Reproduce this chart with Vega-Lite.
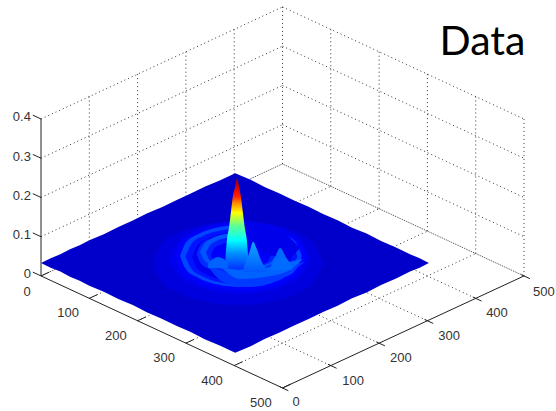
{
"$schema":"https://vega.github.io/schema/vega-lite/v6.json",
"width":556,"height":411,"padding":0,
"autosize":{"type":"fit","contains":"padding"},
"background":"white",
"config":{"view":{"stroke":null}},
"datasets":{
"grid":[
{"h":0,"v":0.1,"h2":500,"v2":0.3855},{"h":0,"v":0.2,"h2":500,"v2":0.4855},{"h":0,"v":0.3,"h2":500,"v2":0.5855},{"h":0,"v":0.4,"h2":500,"v2":0.6855},
{"h":500,"v":0.3855,"h2":1000,"v2":0.1},{"h":500,"v":0.4855,"h2":1000,"v2":0.2},{"h":500,"v":0.5855,"h2":1000,"v2":0.3},{"h":500,"v":0.6855,"h2":1000,"v2":0.4},
{"h":100,"v":0.0571,"h2":100,"v2":0.4571},{"h":200,"v":0.1142,"h2":200,"v2":0.5142},{"h":300,"v":0.1713,"h2":300,"v2":0.5713},{"h":400,"v":0.2284,"h2":400,"v2":0.6284},{"h":500,"v":0.2855,"h2":500,"v2":0.6855},
{"h":600,"v":0.2284,"h2":600,"v2":0.6284},{"h":700,"v":0.1713,"h2":700,"v2":0.5713},{"h":800,"v":0.1142,"h2":800,"v2":0.5142},{"h":900,"v":0.0571,"h2":900,"v2":0.4571},{"h":1000,"v":0,"h2":1000,"v2":0.4},
{"h":100,"v":-0.0571,"h2":600,"v2":0.2284},{"h":200,"v":-0.1142,"h2":700,"v2":0.1713},{"h":300,"v":-0.1713,"h2":800,"v2":0.1142},{"h":400,"v":-0.2284,"h2":900,"v2":0.0571},
{"h":100,"v":0.0571,"h2":600,"v2":-0.2284},{"h":200,"v":0.1142,"h2":700,"v2":-0.1713},{"h":300,"v":0.1713,"h2":800,"v2":-0.1142},{"h":400,"v":0.2284,"h2":900,"v2":-0.0571}
],
"edges":[{"h":0,"v":0,"h2":500,"v2":0.2855},{"h":500,"v":0.2855,"h2":1000,"v2":0}],
"axes":[
{"h":0,"v":0,"h2":0,"v2":0.4},{"h":0,"v":0,"h2":500,"v2":-0.2855},{"h":500,"v":-0.2855,"h2":1000,"v2":0},
{"h":0,"v":0,"h2":17,"v2":0.0097},{"h":100,"v":-0.0571,"h2":117,"v2":-0.0474},{"h":200,"v":-0.1142,"h2":217,"v2":-0.1045},{"h":300,"v":-0.1713,"h2":317,"v2":-0.1616},{"h":400,"v":-0.2284,"h2":417,"v2":-0.2187},{"h":500,"v":-0.2855,"h2":517,"v2":-0.2758},
{"h":494,"v":-0.2821,"h2":512,"v2":-0.2924},{"h":594,"v":-0.225,"h2":612,"v2":-0.2353},{"h":694,"v":-0.1679,"h2":712,"v2":-0.1782},{"h":794,"v":-0.1108,"h2":812,"v2":-0.1211},{"h":894,"v":-0.0537,"h2":912,"v2":-0.064},{"h":994,"v":0.0034,"h2":1012,"v2":-0.0069},
{"h":0,"v":0,"h2":-17,"v2":0.0097},{"h":0,"v":0.1,"h2":-17,"v2":0.1097},{"h":0,"v":0.2,"h2":-17,"v2":0.2097},{"h":0,"v":0.3,"h2":-17,"v2":0.3097},{"h":0,"v":0.4,"h2":-17,"v2":0.4097}
],
"base":[
{"p":"base","z":0.017,"h":0,"top":0.033,"bot":0.033},{"p":"base","z":0.017,"h":20,"top":0.045,"bot":0.021},{"p":"base","z":0.017,"h":40,"top":0.055,"bot":0.011},{"p":"base","z":0.017,"h":60,"top":0.068,"bot":-0.002},{"p":"base","z":0.017,"h":80,"top":0.078,"bot":-0.012},{"p":"base","z":0.017,"h":100,"top":0.091,"bot":-0.025},{"p":"base","z":0.017,"h":130,"top":0.106,"bot":-0.04},{"p":"base","z":0.017,"h":160,"top":0.125,"bot":-0.059},{"p":"base","z":0.017,"h":190,"top":0.141,"bot":-0.074},{"p":"base","z":0.017,"h":220,"top":0.16,"bot":-0.093},{"p":"base","z":0.017,"h":250,"top":0.175,"bot":-0.109},{"p":"base","z":0.017,"h":280,"top":0.193,"bot":-0.127},{"p":"base","z":0.017,"h":310,"top":0.21,"bot":-0.143},{"p":"base","z":0.017,"h":340,"top":0.228,"bot":-0.162},{"p":"base","z":0.017,"h":370,"top":0.243,"bot":-0.177},{"p":"base","z":0.017,"h":402,"top":0.262,"bot":-0.196},{"p":"base","z":0.017,"h":434,"top":0.245,"bot":-0.179},{"p":"base","z":0.017,"h":464,"top":0.226,"bot":-0.16},{"p":"base","z":0.017,"h":494,"top":0.21,"bot":-0.144},{"p":"base","z":0.017,"h":524,"top":0.192,"bot":-0.126},{"p":"base","z":0.017,"h":554,"top":0.176,"bot":-0.11},{"p":"base","z":0.017,"h":584,"top":0.158,"bot":-0.092},{"p":"base","z":0.017,"h":614,"top":0.142,"bot":-0.076},{"p":"base","z":0.017,"h":644,"top":0.123,"bot":-0.057},{"p":"base","z":0.017,"h":674,"top":0.108,"bot":-0.042},{"p":"base","z":0.017,"h":704,"top":0.089,"bot":-0.023},{"p":"base","z":0.017,"h":734,"top":0.073,"bot":-0.007},{"p":"base","z":0.017,"h":764,"top":0.055,"bot":0.011},{"p":"base","z":0.017,"h":784,"top":0.045,"bot":0.021},{"p":"base","z":0.017,"h":803,"top":0.033,"bot":0.033}
],
"surface":[
{"p":"e1","z":0.0225,"h":232,"top":0.033,"bot":0.033},{"p":"e1","z":0.0225,"h":249,"top":0.08,"bot":-0.014},{"p":"e1","z":0.0225,"h":285,"top":0.11,"bot":-0.043},{"p":"e1","z":0.0225,"h":337,"top":0.131,"bot":-0.065},{"p":"e1","z":0.0225,"h":408,"top":0.14,"bot":-0.074},{"p":"e1","z":0.0225,"h":478,"top":0.131,"bot":-0.065},{"p":"e1","z":0.0225,"h":531,"top":0.11,"bot":-0.043},{"p":"e1","z":0.0225,"h":566,"top":0.08,"bot":-0.014},{"p":"e1","z":0.0225,"h":584,"top":0.033,"bot":0.033},
{"p":"e2","z":0.0275,"h":267,"top":0.046,"bot":0.046},{"p":"e2","z":0.0275,"h":282,"top":0.086,"bot":0.006},{"p":"e2","z":0.0275,"h":310.5,"top":0.111,"bot":-0.02},{"p":"e2","z":0.0275,"h":354,"top":0.13,"bot":-0.038},{"p":"e2","z":0.0275,"h":412,"top":0.138,"bot":-0.046},{"p":"e2","z":0.0275,"h":470,"top":0.13,"bot":-0.038},{"p":"e2","z":0.0275,"h":513,"top":0.111,"bot":-0.02},{"p":"e2","z":0.0275,"h":542,"top":0.086,"bot":0.006},{"p":"e2","z":0.0275,"h":557,"top":0.046,"bot":0.046},
{"p":"e2b","z":0.031,"h":279,"top":0.048,"bot":0.048},{"p":"e2b","z":0.031,"h":293,"top":0.085,"bot":0.012},{"p":"e2b","z":0.031,"h":320,"top":0.108,"bot":-0.012},{"p":"e2b","z":0.031,"h":360,"top":0.126,"bot":-0.029},{"p":"e2b","z":0.031,"h":414,"top":0.133,"bot":-0.036},{"p":"e2b","z":0.031,"h":468,"top":0.126,"bot":-0.029},{"p":"e2b","z":0.031,"h":508,"top":0.108,"bot":-0.012},{"p":"e2b","z":0.031,"h":535,"top":0.085,"bot":0.012},{"p":"e2b","z":0.031,"h":549,"top":0.048,"bot":0.048},
{"p":"e3","z":0.038,"h":288,"top":0.051,"bot":0.051},{"p":"e3","z":0.038,"h":300,"top":0.085,"bot":0.017},{"p":"e3","z":0.038,"h":326,"top":0.107,"bot":-0.005},{"p":"e3","z":0.038,"h":363,"top":0.123,"bot":-0.021},{"p":"e3","z":0.038,"h":414,"top":0.13,"bot":-0.028},{"p":"e3","z":0.038,"h":465,"top":0.123,"bot":-0.021},{"p":"e3","z":0.038,"h":502,"top":0.107,"bot":-0.005},{"p":"e3","z":0.038,"h":528,"top":0.085,"bot":0.017},{"p":"e3","z":0.038,"h":540,"top":0.051,"bot":0.051},
{"p":"e3b","z":0.032,"h":299,"top":0.05,"bot":0.05},{"p":"e3b","z":0.032,"h":311,"top":0.081,"bot":0.019},{"p":"e3b","z":0.032,"h":334,"top":0.101,"bot":-0.001},{"p":"e3b","z":0.032,"h":369,"top":0.115,"bot":-0.016},{"p":"e3b","z":0.032,"h":415,"top":0.121,"bot":-0.022},{"p":"e3b","z":0.032,"h":461,"top":0.115,"bot":-0.016},{"p":"e3b","z":0.032,"h":496,"top":0.101,"bot":-0.001},{"p":"e3b","z":0.032,"h":519,"top":0.081,"bot":0.019},{"p":"e3b","z":0.032,"h":531,"top":0.05,"bot":0.05},
{"p":"e4","z":0.027,"h":313,"top":0.048,"bot":0.048},{"p":"e4","z":0.027,"h":323,"top":0.076,"bot":0.02},{"p":"e4","z":0.027,"h":344,"top":0.094,"bot":0.003},{"p":"e4","z":0.027,"h":375,"top":0.107,"bot":-0.01},{"p":"e4","z":0.027,"h":416,"top":0.112,"bot":-0.015},{"p":"e4","z":0.027,"h":457,"top":0.107,"bot":-0.01},{"p":"e4","z":0.027,"h":488,"top":0.094,"bot":0.003},{"p":"e4","z":0.027,"h":509,"top":0.076,"bot":0.02},{"p":"e4","z":0.027,"h":520,"top":0.048,"bot":0.048},
{"p":"e4b","z":0.034,"h":322,"top":0.056,"bot":0.056},{"p":"e4b","z":0.034,"h":331,"top":0.08,"bot":0.032},{"p":"e4b","z":0.034,"h":350,"top":0.095,"bot":0.017},{"p":"e4b","z":0.034,"h":378,"top":0.106,"bot":0.006},{"p":"e4b","z":0.034,"h":415,"top":0.111,"bot":0.001},{"p":"e4b","z":0.034,"h":452,"top":0.106,"bot":0.006},{"p":"e4b","z":0.034,"h":480,"top":0.095,"bot":0.017},{"p":"e4b","z":0.034,"h":499,"top":0.08,"bot":0.032},{"p":"e4b","z":0.034,"h":508,"top":0.056,"bot":0.056},
{"p":"e5","z":0.041,"h":329,"top":0.061,"bot":0.061},{"p":"e5","z":0.041,"h":338,"top":0.082,"bot":0.04},{"p":"e5","z":0.041,"h":355,"top":0.096,"bot":0.027},{"p":"e5","z":0.041,"h":380,"top":0.106,"bot":0.017},{"p":"e5","z":0.041,"h":414,"top":0.11,"bot":0.013},{"p":"e5","z":0.041,"h":448,"top":0.106,"bot":0.017},{"p":"e5","z":0.041,"h":473,"top":0.096,"bot":0.027},{"p":"e5","z":0.041,"h":490,"top":0.082,"bot":0.04},{"p":"e5","z":0.041,"h":499,"top":0.061,"bot":0.061},
{"p":"e5b","z":0.033,"h":341.5,"top":0.059,"bot":0.059},{"p":"e5b","z":0.033,"h":349,"top":0.077,"bot":0.04},{"p":"e5b","z":0.033,"h":363,"top":0.089,"bot":0.029},{"p":"e5b","z":0.033,"h":385,"top":0.097,"bot":0.02},{"p":"e5b","z":0.033,"h":414,"top":0.101,"bot":0.017},{"p":"e5b","z":0.033,"h":443,"top":0.097,"bot":0.02},{"p":"e5b","z":0.033,"h":465,"top":0.089,"bot":0.029},{"p":"e5b","z":0.033,"h":479,"top":0.077,"bot":0.04},{"p":"e5b","z":0.033,"h":486.5,"top":0.059,"bot":0.059},
{"p":"e6","z":0.03,"h":352,"top":0.054,"bot":0.054},{"p":"e6","z":0.03,"h":358,"top":0.069,"bot":0.038},{"p":"e6","z":0.03,"h":371,"top":0.079,"bot":0.028},{"p":"e6","z":0.03,"h":389,"top":0.086,"bot":0.021},{"p":"e6","z":0.03,"h":414,"top":0.089,"bot":0.018},{"p":"e6","z":0.03,"h":439,"top":0.086,"bot":0.021},{"p":"e6","z":0.03,"h":457,"top":0.079,"bot":0.028},{"p":"e6","z":0.03,"h":470,"top":0.069,"bot":0.038},{"p":"e6","z":0.03,"h":476,"top":0.054,"bot":0.054},
{"p":"u1","z":0.026,"h":400,"top":0.13,"bot":0.12},{"p":"u1","z":0.026,"h":423,"top":0.1325,"bot":0.092},{"p":"u1","z":0.026,"h":470,"top":0.125,"bot":0.054},{"p":"u1","z":0.026,"h":510,"top":0.104,"bot":0.046},{"p":"u1","z":0.026,"h":536,"top":0.071,"bot":0.071}
],
"spike":[
{"h":381,"top":0.03,"bot":0.03},{"h":385,"top":0.092,"bot":0.024},{"h":389,"top":0.122,"bot":0.02},{"h":393,"top":0.161,"bot":0.018},{"h":397,"top":0.201,"bot":0.017},{"h":402,"top":0.227,"bot":0.016},{"h":406,"top":0.25,"bot":0.016},{"h":410,"top":0.227,"bot":0.016},{"h":414,"top":0.201,"bot":0.017},{"h":418,"top":0.161,"bot":0.018},{"h":422,"top":0.122,"bot":0.02},{"h":426,"top":0.092,"bot":0.024},{"h":430,"top":0.03,"bot":0.03}
],
"front":[
{"p":"f1","z":0.036,"h":339,"top":0.036,"bot":0.036},{"p":"f1","z":0.036,"h":381,"top":0.01,"bot":-0.018},{"p":"f1","z":0.036,"h":433,"top":0.003,"bot":-0.028},{"p":"f1","z":0.036,"h":484,"top":0.015,"bot":-0.015},{"p":"f1","z":0.036,"h":546,"top":0.036,"bot":0.036},
{"p":"f2","z":0.044,"h":375,"top":0.02,"bot":0.02},{"p":"f2","z":0.044,"h":412,"top":0.015,"bot":-0.008},{"p":"f2","z":0.044,"h":464,"top":0.02,"bot":-0.003},{"p":"f2","z":0.044,"h":515,"top":0.036,"bot":0.015},{"p":"f2","z":0.044,"h":542,"top":0.043,"bot":0.043},
{"p":"c1","z":0.046,"h":474,"top":0.02,"bot":0.015},{"p":"c1","z":0.046,"h":484,"top":0.046,"bot":0.015},{"p":"c1","z":0.046,"h":495,"top":0.071,"bot":0.015},{"p":"c1","z":0.046,"h":507,"top":0.048,"bot":0.015},{"p":"c1","z":0.046,"h":520,"top":0.025,"bot":0.015},
{"p":"c2","z":0.044,"h":346,"top":0.031,"bot":0.02},{"p":"c2","z":0.044,"h":366,"top":0.048,"bot":0.02},{"p":"c2","z":0.044,"h":387,"top":0.036,"bot":0.02}
],
"peak":[
{"h":418,"top":0.015,"bot":0.01},{"h":433,"top":0.066,"bot":0.01},{"h":439,"top":0.087,"bot":0.01},{"h":445,"top":0.074,"bot":0.01},{"h":457,"top":0.036,"bot":0.01},{"h":468,"top":0.015,"bot":0.01}
],
"zlabels":[
{"h":-21,"v":0.405,"t":"0.4"},{"h":-21,"v":0.303,"t":"0.3"},{"h":-21,"v":0.204,"t":"0.2"},{"h":-21,"v":0.104,"t":"0.1"},{"h":-21,"v":0.005,"t":"0"}
],
"labels":[
{"h":-29,"v":-0.041,"t":"0"},{"h":56,"v":-0.094,"t":"100"},{"h":155,"v":-0.153,"t":"200"},{"h":255,"v":-0.209,"t":"300"},{"h":354,"v":-0.268,"t":"400"},{"h":455,"v":-0.324,"t":"500"},
{"h":528,"v":-0.321,"t":"0"},{"h":646,"v":-0.268,"t":"100"},{"h":745,"v":-0.209,"t":"200"},{"h":845,"v":-0.153,"t":"300"},{"h":944,"v":-0.094,"t":"400"},{"h":1041,"v":-0.041,"t":"500"}
],
"title":[{"h":914,"v":0.563,"t":"Data"}]
},
"encoding":{
"x":{"field":"h","type":"quantitative","axis":null,"scale":{"domain":[-84.9,1066.2],"nice":false,"zero":false}}
},
"layer":[
{"data":{"name":"grid"},"mark":{"type":"rule","color":"#333333","strokeWidth":1,"strokeDash":[1,3]},
 "encoding":{"y":{"field":"v","type":"quantitative","axis":null,"scale":{"domain":[-0.3442,0.7032],"nice":false,"zero":false}},"x2":{"field":"h2"},"y2":{"field":"v2"}}},
{"data":{"name":"edges"},"mark":{"type":"rule","color":"#444444","strokeWidth":1,"strokeDash":[1,1]},
 "encoding":{"y":{"field":"v","type":"quantitative","axis":null,"scale":{"domain":[-0.3442,0.7032],"nice":false,"zero":false}},"x2":{"field":"h2"},"y2":{"field":"v2"}}},
{"data":{"name":"axes"},"mark":{"type":"rule","color":"#222222","strokeWidth":1},
 "encoding":{"y":{"field":"v","type":"quantitative","axis":null,"scale":{"domain":[-0.3442,0.7032],"nice":false,"zero":false}},"x2":{"field":"h2"},"y2":{"field":"v2"}}},
{"data":{"name":"base"},"mark":{"type":"area","orient":"vertical"},
 "encoding":{"y":{"field":"top","type":"quantitative","axis":null,"stack":null,"scale":{"domain":[-0.3442,0.7032],"nice":false,"zero":false}},"y2":{"field":"bot"},"detail":{"field":"p"},
 "color":{"field":"z","type":"quantitative","legend":null,"scale":{"domain":[0,0.03125,0.09375,0.15625,0.21875,0.25],"range":["#00008f","#0000ff","#00ffff","#ffff00","#ff0000","#800000"]}}}},
{"data":{"name":"surface"},"mark":{"type":"area","orient":"vertical","interpolate":"monotone"},
 "encoding":{"y":{"field":"top","type":"quantitative","axis":null,"stack":null,"scale":{"domain":[-0.3442,0.7032],"nice":false,"zero":false}},"y2":{"field":"bot"},"detail":{"field":"p"},
 "color":{"field":"z","type":"quantitative","legend":null,"scale":{"domain":[0,0.03125,0.09375,0.15625,0.21875,0.25],"range":["#00008f","#0000ff","#00ffff","#ffff00","#ff0000","#800000"]}}}},
{"data":{"name":"spike"},"mark":{"type":"area","orient":"vertical","interpolate":"monotone","fill":{"gradient":"linear","x1":0,"y1":0,"x2":0,"y2":1,"stops":[{"offset":0,"color":"#8a0000"},{"offset":0.09,"color":"#d00000"},{"offset":0.2,"color":"#ff2000"},{"offset":0.27,"color":"#ff8000"},{"offset":0.38,"color":"#ffff00"},{"offset":0.52,"color":"#60ff90"},{"offset":0.68,"color":"#00ffff"},{"offset":0.82,"color":"#0090ff"},{"offset":1,"color":"#0030ff"}]}},
 "encoding":{"y":{"field":"top","type":"quantitative","axis":null,"stack":null,"scale":{"domain":[-0.3442,0.7032],"nice":false,"zero":false}},"y2":{"field":"bot"}}},
{"data":{"name":"front"},"mark":{"type":"area","orient":"vertical","interpolate":"monotone"},
 "encoding":{"y":{"field":"top","type":"quantitative","axis":null,"stack":null,"scale":{"domain":[-0.3442,0.7032],"nice":false,"zero":false}},"y2":{"field":"bot"},"detail":{"field":"p"},
 "color":{"field":"z","type":"quantitative","legend":null,"scale":{"domain":[0,0.03125,0.09375,0.15625,0.21875,0.25],"range":["#00008f","#0000ff","#00ffff","#ffff00","#ff0000","#800000"]}}}},
{"data":{"name":"peak"},"mark":{"type":"area","orient":"vertical","interpolate":"monotone","fill":{"gradient":"linear","x1":0,"y1":0,"x2":0,"y2":1,"stops":[{"offset":0,"color":"#10a8ff"},{"offset":1,"color":"#0058ff"}]}},
 "encoding":{"y":{"field":"top","type":"quantitative","axis":null,"stack":null,"scale":{"domain":[-0.3442,0.7032],"nice":false,"zero":false}},"y2":{"field":"bot"}}},
{"data":{"name":"zlabels"},"mark":{"type":"text","font":"Liberation Sans","fontSize":13,"color":"#333333","align":"right","baseline":"middle"},
 "encoding":{"y":{"field":"v","type":"quantitative","axis":null,"scale":{"domain":[-0.3442,0.7032],"nice":false,"zero":false}},"text":{"field":"t"}}},
{"data":{"name":"labels"},"mark":{"type":"text","font":"Liberation Sans","fontSize":13,"color":"#333333","align":"center","baseline":"middle"},
 "encoding":{"y":{"field":"v","type":"quantitative","axis":null,"scale":{"domain":[-0.3442,0.7032],"nice":false,"zero":false}},"text":{"field":"t"}}},
{"data":{"name":"title"},"mark":{"type":"text","font":"Lato","fontSize":41,"color":"#000000","align":"center","baseline":"alphabetic"},
 "encoding":{"y":{"field":"v","type":"quantitative","axis":null,"scale":{"domain":[-0.3442,0.7032],"nice":false,"zero":false}},"text":{"field":"t"}}}
]
}
